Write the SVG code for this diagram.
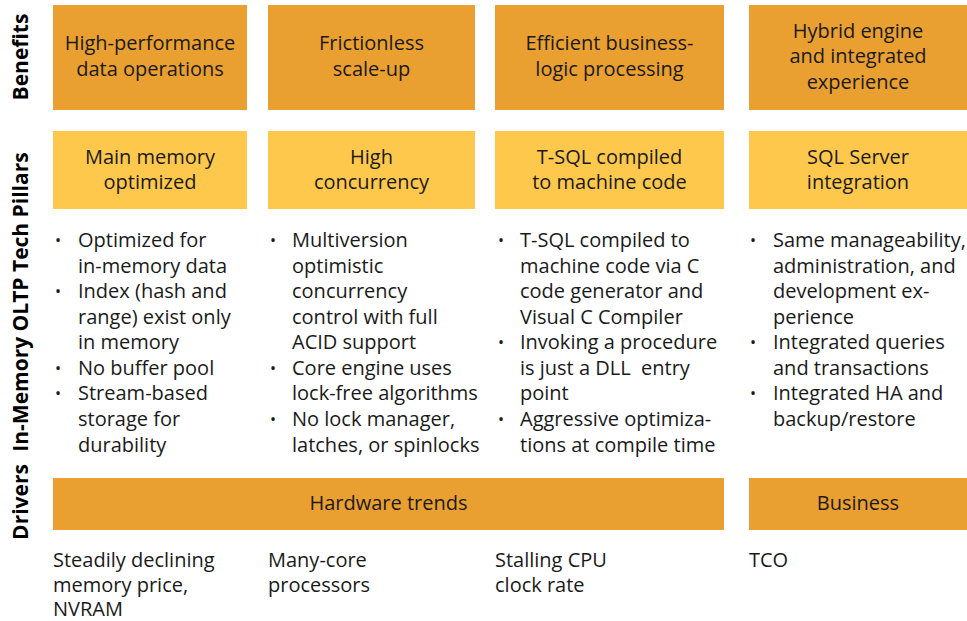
<svg xmlns="http://www.w3.org/2000/svg" width="967" height="621" viewBox="0 0 967 621">
<style>
.dark{fill:#EAA030;}
.light{fill:#FEC84C;}
text{font-family:"Open Sans","Noto Sans","DejaVu Sans",sans-serif;fill:#1a1a1a;}
.h{font-size:20px;text-anchor:middle;}
.b{font-size:20px;}
.dot{font-size:16px;}
.lab{font-size:21px;font-weight:bold;text-anchor:middle;fill:#000;}
</style>
<rect width="967" height="621" fill="#ffffff"/>
<g id="row-labels">
<text class="lab" transform="translate(28,57) rotate(-90)">Benefits</text>
<text class="lab" transform="translate(28,302) rotate(-90)">In-Memory OLTP Tech Pillars</text>
<text class="lab" transform="translate(28,502) rotate(-90)">Drivers</text>
</g>
<g id="benefit1"><rect class="dark" x="53" y="5" width="194" height="105"/>
<text class="h" x="150" y="50">High-performance</text><text class="h" x="150" y="76">data operations</text></g>
<g id="benefit2"><rect class="dark" x="268" y="5" width="207" height="105"/>
<text class="h" x="371.5" y="50">Frictionless</text><text class="h" x="371.5" y="76">scale-up</text></g>
<g id="benefit3"><rect class="dark" x="495" y="5" width="229" height="105"/>
<text class="h" x="609.5" y="50">Efficient business-</text><text class="h" x="609.5" y="76">logic processing</text></g>
<g id="benefit4"><rect class="dark" x="749" y="5" width="218" height="105"/>
<text class="h" x="858" y="38">Hybrid engine</text><text class="h" x="858" y="63">and integrated</text><text class="h" x="858" y="89">experience</text></g>
<g id="pillar1"><rect class="light" x="53" y="131" width="194" height="78"/>
<text class="h" x="150" y="164">Main memory</text><text class="h" x="150" y="189">optimized</text></g>
<g id="pillar2"><rect class="light" x="268" y="131" width="207" height="78"/>
<text class="h" x="371.5" y="164">High</text><text class="h" x="371.5" y="189">concurrency</text></g>
<g id="pillar3"><rect class="light" x="495" y="131" width="229" height="78"/>
<text class="h" x="609.5" y="164">T-SQL compiled</text><text class="h" x="609.5" y="189">to machine code</text></g>
<g id="pillar4"><rect class="light" x="749" y="131" width="218" height="78"/>
<text class="h" x="858" y="164">SQL Server</text><text class="h" x="858" y="189">integration</text></g>
<g id="bullets1">
<text class="dot" x="55" y="246">•</text><text class="b" x="78" y="247">Optimized for</text>
<text class="b" x="78" y="273">in-memory data</text>
<text class="dot" x="55" y="297">•</text><text class="b" x="78" y="298">Index (hash and</text>
<text class="b" x="78" y="324">range) exist only</text>
<text class="b" x="78" y="349">in memory</text>
<text class="dot" x="55" y="374">•</text><text class="b" x="78" y="375">No buffer pool</text>
<text class="dot" x="55" y="399">•</text><text class="b" x="78" y="400">Stream-based</text>
<text class="b" x="78" y="426">storage for</text>
<text class="b" x="78" y="452">durability</text>
</g>
<g id="bullets2">
<text class="dot" x="270" y="246">•</text><text class="b" x="292" y="247">Multiversion</text>
<text class="b" x="292" y="273">optimistic</text>
<text class="b" x="292" y="298">concurrency</text>
<text class="b" x="292" y="324">control with full</text>
<text class="b" x="292" y="349">ACID support</text>
<text class="dot" x="270" y="374">•</text><text class="b" x="292" y="375">Core engine uses</text>
<text class="b" x="292" y="400">lock-free algorithms</text>
<text class="dot" x="270" y="425">•</text><text class="b" x="292" y="426">No lock manager,</text>
<text class="b" x="292" y="452">latches, or spinlocks</text>
</g>
<g id="bullets3">
<text class="dot" x="498" y="246">•</text><text class="b" x="520" y="247">T-SQL compiled to</text>
<text class="b" x="520" y="273">machine code via C</text>
<text class="b" x="520" y="298">code generator and</text>
<text class="b" x="520" y="324">Visual C Compiler</text>
<text class="dot" x="498" y="348">•</text><text class="b" x="520" y="349">Invoking a procedure</text>
<text class="b" x="520" y="375" xml:space="preserve">is just a DLL  entry</text>
<text class="b" x="520" y="400">point</text>
<text class="dot" x="498" y="425">•</text><text class="b" x="520" y="426">Aggressive optimiza-</text>
<text class="b" x="520" y="452">tions at compile time</text>
</g>
<g id="bullets4">
<text class="dot" x="750" y="246">•</text><text class="b" x="773" y="247">Same manageability,</text>
<text class="b" x="773" y="273">administration, and</text>
<text class="b" x="773" y="298">development ex-</text>
<text class="b" x="773" y="324">perience</text>
<text class="dot" x="750" y="348">•</text><text class="b" x="773" y="349">Integrated queries</text>
<text class="b" x="773" y="375">and transactions</text>
<text class="dot" x="750" y="399">•</text><text class="b" x="773" y="400">Integrated HA and</text>
<text class="b" x="773" y="426">backup/restore</text>
</g>
<g id="driver-hardware"><rect class="dark" x="53" y="478" width="671" height="52"/>
<text class="h" x="388.5" y="510">Hardware trends</text></g>
<g id="driver-business"><rect class="dark" x="749" y="478" width="218" height="52"/>
<text class="h" x="858" y="510">Business</text></g>
<g id="driver-notes">
<text class="b" x="53" y="567">Steadily declining</text>
<text class="b" x="53" y="592">memory price,</text>
<text class="b" x="53" y="616">NVRAM</text>
<text class="b" x="268" y="567">Many-core</text>
<text class="b" x="268" y="592">processors</text>
<text class="b" x="495" y="567">Stalling CPU</text>
<text class="b" x="495" y="592">clock rate</text>
<text class="b" x="749" y="567">TCO</text>
</g>
<g id="connectors"></g>
</svg>
